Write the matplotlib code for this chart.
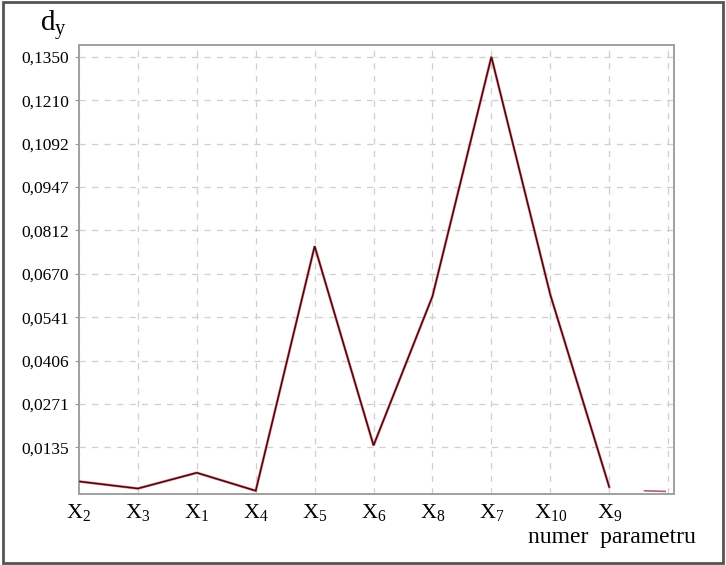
import numpy as np
import matplotlib
matplotlib.use("Agg")
import matplotlib.pyplot as plt
from matplotlib.patches import Rectangle

plt.rcParams["font.family"] = ["Liberation Serif", "DejaVu Serif"]
plt.rcParams["mathtext.fontset"] = "custom"
plt.rcParams["mathtext.rm"] = "Liberation Serif"
plt.rcParams["mathtext.it"] = "Liberation Serif"

# parameter order along the x axis
params = ["X$_2$", "X$_3$", "X$_1$", "X$_4$", "X$_5$", "X$_6$", "X$_8$", "X$_7$",
          "X$_{10}$", "X$_9$"]
d_y = [0.0029, 0.0007, 0.0056, 0.0, 0.0761, 0.0141, 0.0605, 0.1350, 0.0610, 0.0012]

# small leftover stroke near the right edge
stub_x = [9.6, 9.95]
stub_y = [0.0, -0.0002]

# y ticks are evenly spaced, labels as printed on the original
ytick_step = 0.0135
ytick_labels = ["0,0135", "0,0271", "0,0406", "0,0541", "0,0670",
                "0,0812", "0,0947", "0,1092", "0,1210", "0,1350"]

fig = plt.figure(figsize=(7.26, 5.65), dpi=100)
ax = fig.add_axes([0.1088, 0.1257, 0.8196, 0.7947])

x = np.arange(len(params))
ax.plot(x, d_y, color="#f08a8a", lw=2.0, solid_joinstyle="miter", zorder=3)
ax.plot(x, d_y, color="#3e0814", lw=1.1, solid_joinstyle="miter", zorder=4)
ax.plot(stub_x, stub_y, color="#b06070", lw=1.2, zorder=3)

ax.set_xlim(0, 10.1)
ax.set_ylim(-0.0010, 0.1387)
ax.set_xticks(np.arange(11))
ax.set_xticklabels(params + [""], fontsize=16)
yt = ytick_step * np.arange(1, 11)
ax.set_yticks(yt)
ax.set_yticklabels(ytick_labels, fontsize=12.5)
ax.tick_params(axis="x", length=0, pad=6)
ax.tick_params(axis="y", length=3, color="#999999", pad=4)

ax.grid(True, color="#cfcfcf", ls=(0, (5, 5)), lw=0.9)
for s in ax.spines.values():
    s.set_color("#a0a0a0")
    s.set_linewidth(1.4)

fig.text(0.055, 0.955, "d$_\\mathrm{y}$", fontsize=21, ha="left", va="center")
fig.text(0.843, 0.048, "numer  parametru", fontsize=17, ha="center", va="center")

# outer frame
fig.patches.append(Rectangle((0.004, 0.004), 0.992, 0.992, transform=fig.transFigure,
                             fill=False, ec="#555555", lw=2.0))

fig.savefig("out.png", dpi=100)
